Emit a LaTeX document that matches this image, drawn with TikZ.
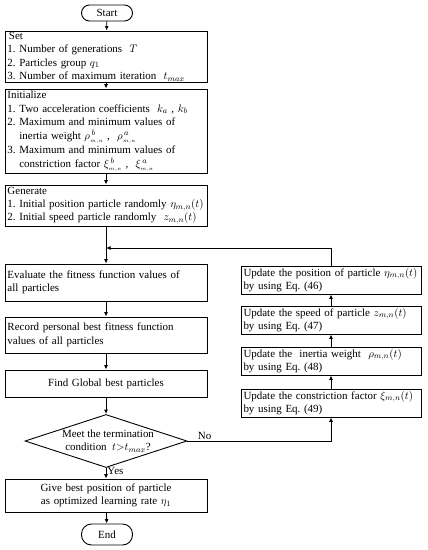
\documentclass[tikz,border=0pt]{standalone}
\usepackage{fontspec}
\setmainfont{Liberation Serif}
\usetikzlibrary{shapes.geometric,arrows.meta}
\begin{document}
\frenchspacing
\begin{tikzpicture}[x=1bp,y=-1bp,
  every node/.style={font=\fontsize{11}{13.5}\selectfont},
  mainbox/.style={draw, line width=0.9bp, rectangle, inner xsep=2.5bp, inner ysep=0bp,
    align=left, text width=197bp, minimum width=202bp},
  sidebox/.style={draw, line width=0.9bp, rectangle, inner xsep=2.5bp, inner ysep=0bp,
    align=left, text width=175bp, minimum width=180bp, minimum height=28bp},
  term/.style={draw, line width=0.9bp, rectangle, rounded corners=8bp,
    minimum width=51bp, inner sep=0pt},
  conn/.style={line width=0.9bp, -{Latex[length=4.5bp,width=4bp]}},
  lbl/.style={inner sep=1bp}
]
\useasboundingbox (0,0) rectangle (427,550);
\fill[white] (0,0) rectangle (427,550);

% left column
\node[term, minimum height=16bp] (start) at (107,13) {Start};
\node[mainbox, minimum height=51bp] (set) at (106,56.5) {\hspace*{1.5bp}Set\\
1. Number of generations \ $T$\\
2. Particles group $q_1$\\
3. Number of maximum iteration \ $t_{max}$};
\node[mainbox, minimum height=84bp, font=\fontsize{11}{14}\selectfont] (init) at (106,131) {Initialize\\
1. Two acceleration coefficients \ $k_a$ , $k_b$\\
2. Maximum and minimum values of\\
\phantom{2. }inertia weight $\rho^{\,b}_{\scriptscriptstyle m,n}$ , \ $\rho^{\,a}_{\scriptscriptstyle m,n}$\\
3. Maximum and minimum values of\\
\phantom{3. }constriction factor $\xi^{\,b}_{\scriptscriptstyle m,n}$ , \ $\xi^{\,a}_{\scriptscriptstyle m,n}$};
\node[mainbox, minimum height=41bp] (gen) at (106,205.5) {Generate\\
\mbox{1. Initial position particle randomly $\eta_{m,n}(t)$}\\
2. Initial speed particle randomly \ $z_{m,n}(t)$};
\coordinate (junc) at (106,248);
\node[mainbox, minimum height=37bp] (eval) at (106,282.5) {Evaluate the fitness function values of\\all particles};
\node[mainbox, minimum height=36bp] (rec) at (106,335) {Record personal best fitness function\\values of all particles};
\node[mainbox, minimum height=27bp, align=center] (find) at (106,383.5) {Find Global best particles};
\node[draw, line width=0.9bp, diamond, minimum width=162bp, minimum height=53bp, inner sep=0pt] (dia) at (106,441) {};
\node[align=center, inner sep=0pt] (diatext) at (108,441) {Meet the termination\\condition \ $t{>}t_{max}$?};
\node[mainbox, minimum height=33bp, align=center] (give) at (106,495.5) {Give best position of particle\\as optimized learning rate $\eta_1$};
\node[term, minimum height=21bp, rounded corners=10bp] (end) at (107,534.5) {End};

% right column
\node[sidebox] (u1) at (331,280) {\mbox{Update the position of particle $\eta_{m,n}(t)$}\\by using Eq. (46)};
\node[sidebox] (u2) at (331,320) {\mbox{Update the speed of particle $z_{m,n}(t)$}\\by using Eq. (47)};
\node[sidebox] (u3) at (331,361) {\mbox{Update the \ inertia weight \ $\rho_{m,n}(t)$}\\by using Eq. (48)};
\node[sidebox] (u4) at (331,403) {\mbox{Update the constriction factor $\xi_{m,n}(t)$}\\by using Eq. (49)};

% connectors
\draw[conn] (start) -- (set);
\draw[conn] (set) -- (init);
\draw[conn] (init) -- (gen);
\draw[conn] (gen) -- (eval);
\draw[conn] (eval) -- (rec);
\draw[conn] (rec) -- (find);
\draw[conn] (find) -- (dia.north);
\draw[conn] (dia.south) -- node[lbl, right, pos=0.3] {Yes} (give);
\draw[conn] (give) -- (end);
\draw[conn] (dia.east) -- node[lbl, above, pos=0.12] {No} (u4.south |- dia.east) -- (u4.south);
\draw[conn] (u4) -- (u3);
\draw[conn] (u3) -- (u2);
\draw[conn] (u2) -- (u1);
\draw[conn] (u1.north) -- (u1.north |- junc) -- (junc);
\end{tikzpicture}
\end{document}
